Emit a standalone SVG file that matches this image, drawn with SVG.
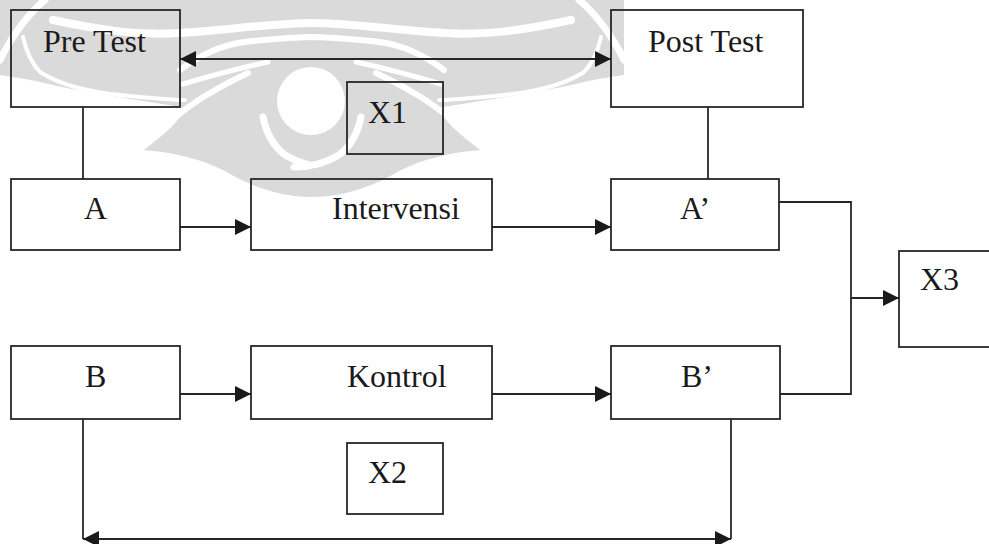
<svg xmlns="http://www.w3.org/2000/svg" width="989" height="544" viewBox="0 0 989 544">
<defs>
<style>
.box{fill:none;stroke:#262626;stroke-width:1.8}
.ln{fill:none;stroke:#262626;stroke-width:1.8}
.arr{marker-end:url(#ah)}
.both{marker-start:url(#ah);marker-end:url(#ah)}
.t{font-family:"Liberation Serif","Times New Roman",serif;font-size:32px;fill:#1a1a1a}
.wm{fill:#dadada}
.wmw{fill:none;stroke:#ffffff;stroke-linecap:round}
</style>
<marker id="ah" markerUnits="userSpaceOnUse" markerWidth="16" markerHeight="16" viewBox="0 0 16 16" refX="16" refY="8" orient="auto-start-reverse">
<path d="M0,0 L16,8 L0,16 Z" fill="#1a1a1a"/>
</marker>
<g id="wmhalf">
<path class="wm" d="M0,0 H313 V197 C280,197 250,186 225,171 C200,158 170,152 143,150 C165,135 180,120 186,108 C140,100 80,92 40,82 C20,78 8,76 0,75 Z"/>
<path class="wmw" stroke-width="7" d="M0,60 C12,35 30,12 45,0"/>
<path class="wmw" stroke-width="8" d="M53,20 C100,30 140,36 180,33 C230,30 280,22 318,23"/>
<path class="wmw" stroke-width="6" d="M180,70 C200,55 220,45 245,42 C280,38 300,37 318,37"/>
<path class="wmw" stroke-width="4" d="M23,37 C26,50 30,62 40,72 C60,85 90,92 120,95 C150,98 170,100 185,100"/>
<path class="wmw" stroke-width="5" d="M183,84 C210,76 240,68 268,62"/>
<path class="wmw" stroke-width="6" d="M143,147 C165,125 185,108 205,96 C220,87 235,79 248,73"/>
<path class="wmw" stroke-width="7" d="M263,117 C266,132 272,145 285,155 C298,163 312,167 330,167"/>
</g>
</defs>
<rect width="989" height="544" fill="#ffffff"/>
<g id="watermark">
<use href="#wmhalf"/>
<use href="#wmhalf" transform="translate(624,0) scale(-1,1)"/>
<circle cx="311" cy="101" r="34" fill="#ffffff"/>
</g>
<g id="connectors">
<line class="ln both" x1="180" y1="59" x2="611" y2="59"/>
<line class="ln" x1="83" y1="107" x2="83" y2="179"/>
<line class="ln" x1="708" y1="107" x2="708" y2="179"/>
<line class="ln arr" x1="180" y1="227" x2="251" y2="227"/>
<line class="ln arr" x1="492" y1="227" x2="611" y2="227"/>
<path class="ln" d="M779,202 H851 V394 H780"/>
<line class="ln arr" x1="851" y1="298" x2="899" y2="298"/>
<line class="ln arr" x1="180" y1="394" x2="251" y2="394"/>
<line class="ln arr" x1="492" y1="394" x2="611" y2="394"/>
<line class="ln" x1="83" y1="419" x2="83" y2="539"/>
<line class="ln" x1="731" y1="419" x2="731" y2="539"/>
<line class="ln both" x1="83" y1="539" x2="731" y2="539"/>
</g>
<g id="pretest"><rect class="box" x="11" y="10" width="169" height="97"/><text class="t" x="43" y="52">Pre Test</text></g>
<g id="posttest"><rect class="box" x="611" y="10" width="192" height="97"/><text class="t" x="648" y="52">Post Test</text></g>
<g id="x1"><rect class="box" x="347" y="82" width="96" height="72"/><text class="t" x="368" y="123">X1</text></g>
<g id="a"><rect class="box" x="11" y="179" width="169" height="71"/><text class="t" x="84" y="219">A</text></g>
<g id="intervensi"><rect class="box" x="251" y="179" width="241" height="71"/><text class="t" x="332" y="219">Intervensi</text></g>
<g id="a2"><rect class="box" x="611" y="179" width="168" height="71"/><text class="t" x="680" y="219">A’</text></g>
<g id="x3"><rect class="box" x="899" y="251" width="100" height="96"/><text class="t" x="920" y="290">X3</text></g>
<g id="b"><rect class="box" x="11" y="346" width="169" height="73"/><text class="t" x="85" y="387">B</text></g>
<g id="kontrol"><rect class="box" x="251" y="346" width="241" height="73"/><text class="t" x="347" y="387">Kontrol</text></g>
<g id="b2"><rect class="box" x="611" y="346" width="169" height="73"/><text class="t" x="681" y="387">B’</text></g>
<g id="x2"><rect class="box" x="347" y="443" width="96" height="71"/><text class="t" x="368" y="483">X2</text></g>
</svg>
